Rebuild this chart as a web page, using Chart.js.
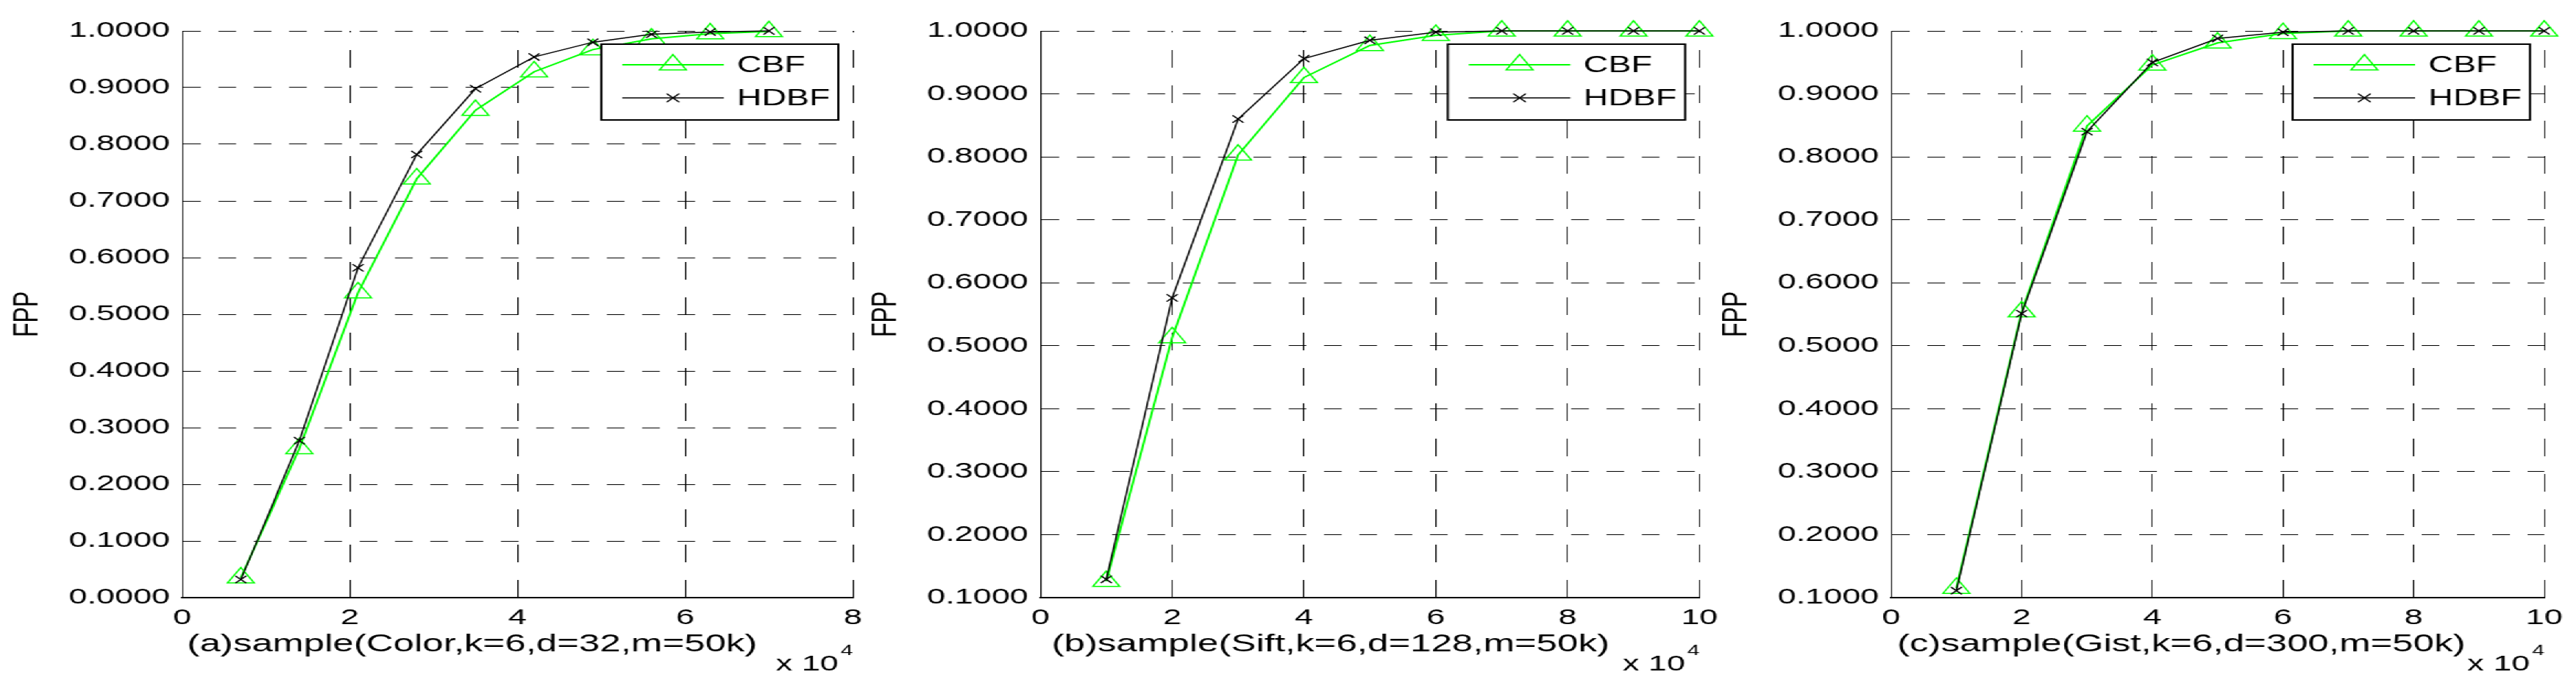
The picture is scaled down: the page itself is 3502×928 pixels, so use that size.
<!DOCTYPE html>
<html>
<head>
<meta charset="utf-8">
<script src="https://cdn.jsdelivr.net/npm/chart.js@4.4.1/dist/chart.umd.min.js"></script>
<style>
  html, body { margin: 0; padding: 0; background: #fff; overflow: hidden; }
  /* the source figure is stretched horizontally, so draw narrow and widen it */
  #stage { position: absolute; left: 0; top: 0; height: 928px; transform-origin: 0 0; }
  #stage canvas { position: absolute; top: 0; }
</style>
</head>
<body>
<div id="stage"></div>
<script>
const seriesNames = ['CBF', 'HDBF'];
const panelTitles = [
    '(a)sample(Color,k=6,d=32,m=50k)',
    '(b)sample(Sift,k=6,d=128,m=50k)',
    '(c)sample(Gist,k=6,d=300,m=50k)'
];

// (a) Color
const xColor = [0.7, 1.4, 2.1, 2.8, 3.5, 4.2, 4.9, 5.6, 6.3, 7.0];
const cbfColor = [0.035, 0.263, 0.538, 0.739, 0.860, 0.928, 0.967, 0.986, 0.995, 0.999];
const hdbfColor = [0.032, 0.277, 0.582, 0.782, 0.898, 0.954, 0.980, 0.994, 0.998, 1.000];

// (b) Sift
const xSift = [1, 2, 3, 4, 5, 6, 7, 8, 9, 10];
const cbfSift = [0.126, 0.513, 0.803, 0.926, 0.977, 0.993, 1.000, 1.000, 1.000, 1.000];
const hdbfSift = [0.129, 0.576, 0.860, 0.956, 0.985, 0.998, 1.000, 1.000, 1.000, 1.000];

// (c) Gist
const xGist = [1, 2, 3, 4, 5, 6, 7, 8, 9, 10];
const cbfGist = [0.115, 0.554, 0.849, 0.946, 0.981, 0.996, 1.000, 1.000, 1.000, 1.000];
const hdbfGist = [0.111, 0.551, 0.840, 0.950, 0.988, 0.998, 1.000, 1.000, 1.000, 1.000];

const xTicksA = [0, 2, 4, 6, 8];
const xTicksBC = [0, 2, 4, 6, 8, 10];
const yTicksA = [0, 0.1, 0.2, 0.3, 0.4, 0.5, 0.6, 0.7, 0.8, 0.9, 1.0];
const yTicksBC = [0.1, 0.2, 0.3, 0.4, 0.5, 0.6, 0.7, 0.8, 0.9, 1.0];

const STRETCH = 1.5;
const FONT = "'Liberation Sans', Arial, Helvetica, sans-serif";
const GREEN = '#00ff00';

const stage = document.getElementById('stage');
stage.style.width = (3502 / STRETCH) + 'px';
stage.style.transform = 'scaleX(' + STRETCH + ')';

// legend box, axis label and the "x 10^4" note, MATLAB style
const decor = {
    id: 'decor',
    afterDraw(chart, args, opts) {
        const {ctx, chartArea: a} = chart;
        ctx.save();

        const bw = 215, bh = 103;
        const bx = a.right - 13 - bw, by = a.top + 18;
        ctx.fillStyle = '#fff';
        ctx.fillRect(bx, by, bw, bh);
        ctx.lineWidth = 2;
        ctx.strokeStyle = '#000';
        ctx.strokeRect(bx, by, bw, bh);

        chart.data.datasets.forEach((ds, i) => {
            const cy = by + 28 + i * 45;
            ctx.beginPath();
            ctx.lineWidth = ds.borderWidth;
            ctx.strokeStyle = ds.borderColor;
            ctx.moveTo(bx + 19, cy);
            ctx.lineTo(bx + 111, cy);
            ctx.stroke();
            ctx.fillStyle = 'rgba(0,0,0,0)';
            ctx.lineWidth = ds.pointBorderWidth;
            Chart.helpers.drawPoint(ctx, {
                pointStyle: ds.pointStyle,
                radius: ds.legendRadius,
                rotation: 0,
                borderWidth: ds.pointBorderWidth
            }, bx + 65, cy);
            ctx.fillStyle = '#000';
            ctx.font = '31px ' + FONT;
            ctx.textAlign = 'left';
            ctx.textBaseline = 'middle';
            ctx.fillText(ds.label, bx + 123, cy + 1);
        });

        ctx.fillStyle = '#000';
        ctx.textAlign = 'center';
        ctx.textBaseline = 'middle';
        ctx.font = '34px ' + FONT;
        ctx.fillText(opts.title, a.left + 263, 876);

        ctx.textAlign = 'right';
        ctx.textBaseline = 'alphabetic';
        ctx.font = '30px ' + FONT;
        ctx.fillText('x 10', a.right - 13, 911);
        ctx.font = '20px ' + FONT;
        ctx.fillText('4', a.right, 890);
        ctx.restore();
    }
};

function makePanel(plotLeft, plotRight, xs, cbf, hdbf, xTicks, yTicks, yMin, title) {
    const axisW = 160;
    const plotW = plotRight - plotLeft;
    const canvasW = Math.ceil(axisW + plotW + 40);
    const canvas = document.createElement('canvas');
    canvas.width = canvasW;
    canvas.height = 928;
    canvas.style.left = (plotLeft - axisW) + 'px';
    stage.appendChild(canvas);

    const tickFont = {family: FONT, size: 30};

    new Chart(canvas, {
        type: 'line',
        data: {
            datasets: [{
                label: seriesNames[0],
                data: xs.map((x, i) => ({x: x, y: cbf[i]})),
                borderColor: GREEN,
                borderWidth: 2,
                pointStyle: 'triangle',
                pointRadius: 14,
                legendRadius: 14,
                pointBorderColor: GREEN,
                pointBackgroundColor: 'rgba(0,0,0,0)',
                pointBorderWidth: 1.5,
                tension: 0,
                clip: false,
                order: 1
            }, {
                label: seriesNames[1],
                data: xs.map((x, i) => ({x: x, y: hdbf[i]})),
                borderColor: '#000',
                borderWidth: 1.5,
                pointStyle: 'crossRot',
                pointRadius: 7,
                legendRadius: 8,
                pointBorderColor: '#000',
                pointBorderWidth: 1.5,
                tension: 0,
                clip: false,
                order: 0
            }]
        },
        options: {
            responsive: false,
            animation: false,
            devicePixelRatio: 1,
            layout: {padding: {left: 0, top: 42, right: canvasW - axisW - plotW, bottom: 0}},
            plugins: {
                legend: {display: false},
                tooltip: {enabled: false},
                decor: {title: title}
            },
            scales: {
                x: {
                    type: 'linear',
                    min: xTicks[0],
                    max: xTicks[xTicks.length - 1],
                    afterBuildTicks: s => { s.ticks = xTicks.map(v => ({value: v})); },
                    afterFit: s => { s.height = 116; },
                    ticks: {
                        padding: 10,
                        font: tickFont,
                        color: '#000',
                        maxRotation: 0,
                        autoSkip: false,
                        callback: v => String(v)
                    },
                    grid: {color: '#000', lineWidth: 1, drawTicks: false},
                    border: {display: true, color: '#000', width: 2, dash: [24, 24], dashOffset: 22}
                },
                y: {
                    type: 'linear',
                    min: yMin,
                    max: 1,
                    afterBuildTicks: s => { s.ticks = yTicks.map(v => ({value: v})); },
                    afterFit: s => { s.width = axisW; },
                    ticks: {
                        padding: 11,
                        font: tickFont,
                        color: '#000',
                        autoSkip: false,
                        callback: v => v.toFixed(4)
                    },
                    grid: {color: '#000', lineWidth: 1, drawTicks: false},
                    border: {display: true, color: '#000', width: 1, dash: [16, 16]},
                    title: {
                        display: true,
                        text: 'FPP',
                        color: '#000',
                        font: {family: FONT, size: 32},
                        padding: {top: 1, bottom: 0}
                    }
                }
            }
        },
        plugins: [decor]
    });
}

makePanel(164.67, 772.67, xColor, cbfColor, hdbfColor, xTicksA, yTicksA, 0, panelTitles[0]);
makePanel(943.33, 1540.67, xSift, cbfSift, hdbfSift, xTicksBC, yTicksBC, 0.1, panelTitles[1]);
makePanel(1714, 2306, xGist, cbfGist, hdbfGist, xTicksBC, yTicksBC, 0.1, panelTitles[2]);
</script>
</body>
</html>
